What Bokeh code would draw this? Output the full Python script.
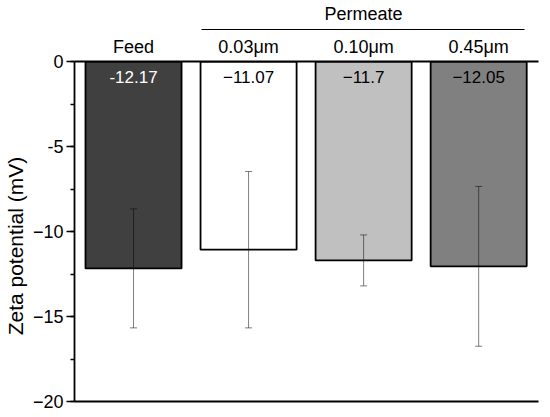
from bokeh.plotting import figure
from bokeh.models import (ColumnDataSource, Range1d, LinearAxis, FixedTicker,
                          SingleIntervalTicker, Whisker, TeeHead)
from bokeh.core.properties import value
from bokeh.embed import file_html
from bokeh.resources import INLINE

# data
samples = ["Feed", "0.03\u03bcm", "0.10\u03bcm", "0.45\u03bcm"]
zeta = [-12.17, -11.07, -11.7, -12.05]
zeta_err = [3.5, 4.6, 1.5, 4.7]
zeta_text = ["-12.17", "\u221211.07", "\u221211.7", "\u221212.05"]
group_name = "Permeate"
y_ticks = [0, -5, -10, -15, -20]
y_tick_text = ["0", "-5", "\u221210", "\u221215", "\u221220"]

bar_colors = ["#404040", "#ffffff", "#c0c0c0", "#808080"]
label_colors = ["#ffffff", "#000000", "#000000", "#000000"]
FONT = "Liberation Sans"

xs = list(range(len(samples)))
src = ColumnDataSource(dict(
    x=xs, top=[0] * len(xs), bottom=zeta,
    upper=[v + e for v, e in zip(zeta, zeta_err)],
    lower=[v - e for v, e in zip(zeta, zeta_err)],
    txt=zeta_text, fill=bar_colors, tcol=label_colors,
))

p = figure(frame_width=464, frame_height=340,
           x_range=Range1d(-0.513, 3.52), y_range=Range1d(-20, 0),
           x_axis_location="above",
           output_backend="svg", toolbar_location=None,
           min_border_left=68, min_border_right=2,
           min_border_top=53, min_border_bottom=10)
p.outline_line_color = None
p.xgrid.visible = False
p.ygrid.visible = False

p.vbar(x="x", top="top", bottom="bottom", width=0.835, source=src,
       fill_color="fill", line_color="black", line_width=1.8)

wh = Whisker(source=src, base="x", upper="upper", lower="lower",
             line_color="black", line_alpha=0.5, line_width=1,
             upper_head=TeeHead(size=7, line_color="black", line_alpha=0.5, line_width=1),
             lower_head=TeeHead(size=7, line_color="black", line_alpha=0.5, line_width=1))
wh.level = "overlay"
p.add_layout(wh)

p.text(x="x", y="top", text="txt", source=src, text_color="tcol",
       text_font=value(FONT), text_font_size="17px",
       text_align="center", text_baseline="top", y_offset=9)

# sample names on the top axis (line at y = 0)
xa = p.xaxis[0]
xa.ticker = FixedTicker(ticks=xs)
xa.major_label_overrides = {i: s for i, s in zip(xs, samples)}
xa.major_tick_out = 0
xa.major_tick_in = 0
xa.minor_tick_out = 0
xa.minor_tick_in = 0
xa.axis_line_width = 1.8
xa.major_label_standoff = 5
xa.major_label_text_font = FONT
xa.major_label_text_font_size = "18px"
xa.major_label_text_color = "black"
# thin spacer above the sample names
xa.axis_label = " "
xa.axis_label_text_font_size = "1px"
xa.axis_label_standoff = 0

# "Permeate" bracket
pa = LinearAxis(ticker=FixedTicker(ticks=[2]),
                major_label_overrides={2: group_name},
                bounds=(0.591, 3.398))
pa.major_tick_out = 0
pa.major_tick_in = 0
pa.minor_tick_out = 0
pa.minor_tick_in = 0
pa.axis_line_width = 1.2
pa.major_label_standoff = 6
pa.major_label_text_font = FONT
pa.major_label_text_font_size = "18px"
pa.major_label_text_color = "black"
p.add_layout(pa, "above")

# bottom line at -20
ba = LinearAxis(ticker=FixedTicker(ticks=[]))
ba.major_tick_out = 0
ba.minor_tick_out = 0
ba.axis_line_width = 1.8
ba.major_label_text_font_size = "0px"
p.add_layout(ba, "below")

ya = p.yaxis[0]
ya.ticker = SingleIntervalTicker(interval=5, num_minor_ticks=2)
ya.major_label_overrides = {t: s for t, s in zip(y_ticks, y_tick_text)}
ya.major_tick_out = 8
ya.major_tick_in = 0
ya.minor_tick_out = 4
ya.minor_tick_in = 0
ya.axis_line_width = 1.8
ya.major_tick_line_width = 1.3
ya.minor_tick_line_width = 1.3
ya.major_label_standoff = 3
ya.major_label_text_font = FONT
ya.major_label_text_font_size = "18px"
ya.major_label_text_color = "black"
ya.axis_label = "Zeta potential (mV)\u00a0\u00a0\u00a0\u00a0\u00a0"
ya.axis_label_text_font = FONT
ya.axis_label_text_font_size = "21px"
ya.axis_label_text_font_style = "normal"
ya.axis_label_text_color = "black"
ya.axis_label_standoff = 3

open("out.html", "w").write(file_html(p, INLINE))
